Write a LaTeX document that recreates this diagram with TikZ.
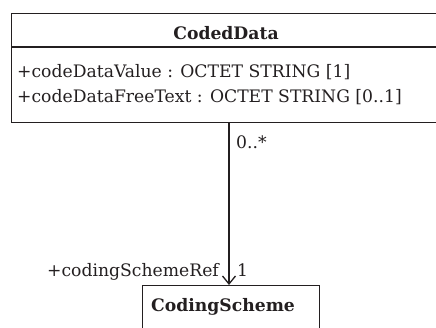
\documentclass[tikz,border=0pt]{standalone}
\usepackage{fontspec}
\setmainfont{DejaVu Serif}
\usetikzlibrary{arrows.meta}
\definecolor{ink}{RGB}{35,31,32}
\tikzset{
  umlbox/.style={draw=ink, line width=1.3pt, anchor=north west, inner sep=0pt},
  lbl/.style={text=ink, inner sep=0pt, font=\fontsize{17.2}{19}\selectfont},
  title/.style={lbl, font=\fontsize{17.2}{19}\selectfont\bfseries},
  assoc/.style={draw=ink, line width=1.3pt, -{Straight Barb[length=8pt,width=13pt,line width=1.3pt]}}
}
\begin{document}
\begin{tikzpicture}[x=1pt,y=-1pt]
\useasboundingbox (0,0) rectangle (436,327);
\begin{scope}
\clip (0,0) rectangle (436,327);
% class CodedData
\node[umlbox, minimum width=430pt, minimum height=109pt] (coded) at (11,13) {};
\draw[draw=ink, line width=1.3pt] (11,47) -- (441,47);
\node[title, anchor=base] (codedname) at (226,39) {CodedData};
\node[lbl, anchor=base west] (attr1) at (17,77) {+codeDataValue : OCTET STRING [1]};
\node[lbl, anchor=base west] (attr2) at (17,102) {+codeDataFreeText : OCTET STRING [0..1]};
% class CodingScheme
\node[umlbox, minimum width=177pt, minimum height=60pt] (scheme) at (142,285) {};
\node[title, anchor=base west] (schemename) at (151,311) {CodingScheme};
% association
\coordinate (lx) at (229,0);
\draw[assoc] (coded.south -| lx) -- (scheme.north -| lx);
\node[lbl, anchor=base west] (m1) at (236,148) {0..*};
\node[lbl, anchor=base east] (role) at (219,276) {+codingSchemeRef};
\node[lbl, anchor=base west] (m2) at (237,276) {1};
\end{scope}
\end{tikzpicture}
\end{document}
